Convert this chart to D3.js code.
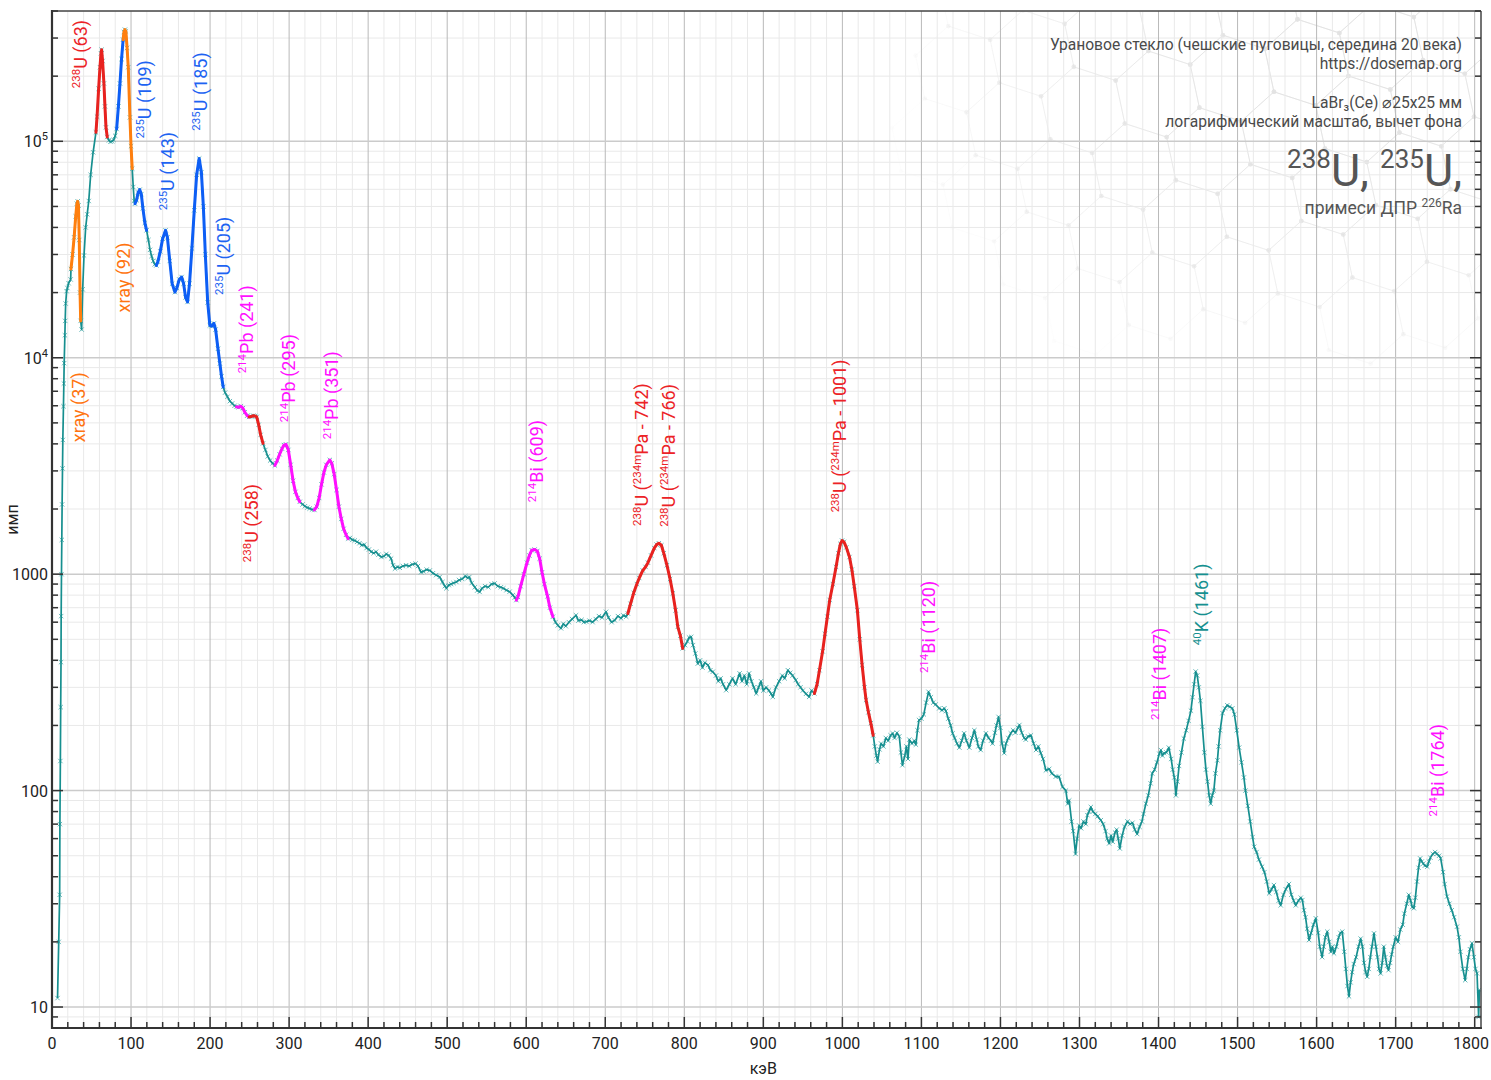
<!DOCTYPE html>
<html><head><meta charset="utf-8">
<script src="https://cdn.jsdelivr.net/npm/d3@7"></script>
<style>body{margin:0;background:#fff} text{font-family:Roboto,"Noto Sans",sans-serif}</style>
</head><body><svg id="c" width="1491" height="1080"></svg>
<script>
// ---------------- DATA ----------------
const energyKeV = [7,8.5,9.7,10,10.6,11,11.4,11.6,12,12.4,12.8,13.3,13.7,14.5,15,15.4,16.3,16.7,17.3,18.5,19.5,21,23.6,
24,26,28,30,31.5,32.5,33.5,34.5,35.5,36.3,
37.5,38.8,40.5,42.6,44.5,46.5,48.9,52,55.6,
57,59,60.7,62,62.8,64,65.7,67,68.3,69.9,
72,74,76,78,80,
81.8,84,86,88,90,
91,92.3,93.5,95,96.5,98.6,100,101.5,
102.8,104,105,
107,109,111,113,115,117.5,119.7,
122,124,126,128,130,132,
134,137,140,143.7,146,149,152,155.5,158,161,164,166.5,169,171.5,174,177,180,183,186.2,189,191.5,194,197,199.7,202,204.8,207,210,212.4,214.5,216.6,
219,222,225,228,231,233.5,
236,239,241.5,244,247,249.5,
252,254.6,257,259,261.5,264,267,
270,273,276,279,282,
285,288,291,293.5,296,299,302,305,308,311,313.5,
317,320,323,326,329,332,
335,338,341,344,347,351.5,354,357,360,363,366,369,372,374.6,
377,380,383,386,389,392,395,398,401,404,407,410,413,416.8,420,423,426,429,431.5,434,437,440,444,448,452,456,460,463,467,470,474,478,482,486,490.5,494,497,499,502,505,508,511.6,515,519,523,526,528,531,535,538,541,544,548,552,556,560,564,568,571,575,579,583,585.5,587.5,
589.5,593,597,601,604,607,610.6,614,617,620,623,627,630,633.8,
637,640,644,647,650,654,658,663,666,670,673,676,680,684,688,692,696,701,704,708,712,716,720,723,726.5,728.6,
732,736,740,743,747.5,751,754,758,762,765,767.8,771,774,778,782,785.5,789,791.8,795,798,
801,804,806,808.7,811,814,817,820,823,826,830,833,836,840,843,846,849,853,857,861,865,870,873,876,879,882,885,888,891,894,897,900,903.5,907,910,912,916,920,924,927,931,934,937,941,944,947,950,954,958,961,964.6,
968,971,975,978,981,984,988,992,995,997.5,999.6,1002,1005,1009,1012,1015,1019,1022,1025,1028,1030,1033,1036,1039,
1041,1043,1044.6,1047,1049,1052,1055,1058,1061,1063.6,1066,1069,1072,1074,1076,1079,1081,1083,1084.7,1088,1091,1093,1095,1097,1100,1103,1106,1109,1112,1115,1118,1122.6,1126,1129,1131,1134,1137,1139.5,1142,1145,1148,1151,1154,1157,1160.6,1164,1167,1170,1172,1175,1178,1181.6,1185,1188,1190,1193,1195,1197.6,1200,1202,1204.8,1207,1210,1213,1216,1219,1222,1224,1227,1230,1232,1235,1238.5,1242,1245,1248,1251,1254,1257.5,1261.7,1265,1270,1274,1278.5,1282.8,1285,1287,1290,1292,1295,1297,1299.6,1302,1305,1308,1310,1312,1314.4,1317,1320,1323,1327,1330,1333,1335,1337.5,1340,1342,1345,1347,1349,1351,1354,1357,1360.7,1364,1367,1370,1373,1376,1379,1381,1384,1387,1390,1392,1395,1398,1401,1403,1405,1407,1410,1413,1416,1418,1420,1422,1424,1426,1429,1432,1435,1438,1441,1443,1445,1447,1449,1451,1453,1455.5,1458,1460,1462,1464,1466,1468,1470,1472,1474.5,1476,1478,1481,1484,1487,1490,1493.4,1496,1499,1502,1505,1508,1510,1513,1516,1519,1521,1524,1527,1531,1534,1537,1540,1543,1546,1549,1552,1554.6,1558,1561,1565,1568,1571,1573.6,1577,1580,1582,1584,1586,1588,1590.5,1593,1596,1599,1602,1604,1607,1609,1611,1613.5,1616,1618,1620,1622,1625,1628,1630,1632.5,1635,1637,1639,1641,1643,1645,1647,1650,1653,1655.7,1658,1660,1662,1664,1666,1668,1670,1672.6,1675,1677,1679,1681,1683,1685,1687,1689,1691,1693,1695,1697,1700,1703,1706,1709,1711,1714,1716.6,1719,1721,1723,1725,1727,1729,1731,1733,1735,1737,1740,1742,1744,1747,1750,1752,1755,1757,1760,1762,1765,1768,1771,1774,1777.6,1780,1782,1785,1788,1790,1792,1794,1796.6,1799,1801,1803,1805,1806];
const counts = [11,20,33,70,137,243,392,640,1000,1440,2100,3080,4170,5970,7600,9440,12700,14800,17800,20300,21000,22100,23000,
25700,30000,36000,45000,51500,52800,50500,35000,20000,14800,
13500,20700,29700,40000,46000,53000,70000,89000,110000,
130000,175000,220000,255000,265000,235000,185000,145000,116000,104700,
101000,99500,100000,101500,106000,
114000,145000,185000,240000,295000,
320000,328000,322000,270000,220000,129000,95000,74800,
61500,53000,51500,
53500,58000,59800,57000,49000,42000,38800,
35000,31500,29500,28000,27000,26700,
27800,31000,35500,38800,36000,28000,22000,20100,21000,23000,23600,22000,19000,18100,22000,32000,48000,70000,83200,72000,50000,30000,18000,14100,14000,14400,13500,11000,9400,8200,7330,
6900,6600,6300,6150,6000,5930,
5900,5970,5850,5600,5400,5330,
5350,5400,5380,5330,4900,4400,4020,
3750,3500,3350,3250,3180,
3350,3580,3800,3950,3980,3750,3200,2700,2400,2250,2160,
2100,2060,2030,2010,1990,1980,
2050,2250,2600,2950,3200,3370,3250,2900,2450,2050,1800,1620,1520,1460,
1470,1440,1430,1410,1390,1360,1370,1320,1300,1270,1250,1270,1230,1200,1210,1240,1220,1180,1100,1060,1080,1070,1090,1100,1090,1110,1120,1090,1020,1030,1050,1040,1010,990,970,920,880,860,890,900,910,920,940,950,980,960,970,910,870,840,828,860,880,870,900,906,880,870,860,843,830,800,780,759,
785,880,1000,1130,1220,1290,1300,1280,1180,1020,900,790,700,636,
600,580,562,590,575,600,620,646,610,615,600,603,610,600,620,640,630,670,630,600,612,640,625,645,636,658,
730,820,900,960,1040,1080,1130,1220,1320,1370,1390,1360,1250,1100,950,815,680,571,520,454,
470,490,510,513,470,430,386,400,370,390,380,360,354,340,320,330,310,291,310,330,310,348,320,340,310,348,320,300,281,300,320,290,300,290,280,271,300,320,340,330,360,350,340,324,310,300,290,280,271,290,281,
310,360,440,530,636,760,900,1080,1250,1380,1430,1410,1330,1200,1050,880,681,500,380,300,262,230,205,180,
160,145,136,155,165,160,175,170,180,184,175,185,178,150,131,145,160,140,172,165,170,163,190,212,215,225,255,286,270,255,250,240,235,240,233,215,200,184,175,165,158,170,184,170,158,175,190,172,160,154,170,184,175,170,165,185,200,219,195,165,149,165,175,184,190,185,195,201,185,175,172,178,180,165,154,160,149,140,124,126,120,116,116,104,100,87,90,72,65,51,60,69,67,72,70,77,80,84,80,78,76,73,70,65,60,57,62,58,64,66,60,54,62,68,72,70,71,66,63,68,72,78,87,95,108,120,125,135,148,154,145,149,150,158,140,125,115,95,110,130,150,174,190,210,234,270,310,355,340,300,260,197,150,125,110,95,87,95,100,120,138,160,190,228,240,248,244,240,225,190,158,135,115,100,85,72,61,55,52,48,44.5,42,38,33.5,35,36.6,34,31,29.5,33,35,37,33,31,29.5,31,32,31.2,28,26,23,20.4,22,24,25.7,22,19,17,19,21,22.3,20,18,19,17.7,19,21,22,22.3,18,15,12.5,11.2,13,14.5,15.8,17,19,20.7,19,16,14.5,13.8,15,17,19,21.9,19,17,15,14.3,16,19,17,15.5,14.8,16,17.5,19,21,20,22.8,24,27,30,33,31,29,28.6,32,38,44,48.6,47,46,45,44.5,47,49,51,52,51,50,48.6,42,37,32.4,30,28,26,23.5,21,18,15,13.3,15,17,18.5,19.7,17,15,14.3,9,12];

// highlighted peak regions (keV from, keV to, colour)
const segStart = [24, 55.6, 81.8, 90, 105, 132, 233.5, 249.5, 282, 332, 587.5, 728.6, 964.6];
const segEnd   = [36.3, 69.9, 90, 101.5, 119.7, 216.6, 249.5, 267, 313.5, 374.6, 633.8, 798, 1039];
const segColor = ["#ff7f0e","#e8221f","#0d5ef5","#ff7f0e","#0d5ef5","#0d5ef5","#ff10ff","#e8221f","#ff10ff","#ff10ff","#ff10ff","#e8221f","#e8221f"];

// peak labels: text (^...^ = superscript), anchor energy, anchor count, colour
const labelText  = ["xray (37)","^238^U (63)","^235^U (109)","^235^U (143)","^235^U (185)","xray (92)","^235^U (205)","^214^Pb (241)","^214^Pb (295)","^214^Pb (351)","^238^U (258)","^214^Bi (609)","^238^U (^234m^Pa - 742)","^238^U (^234m^Pa - 766)","^238^U (^234m^Pa - 1001)","^214^Bi (1120)","^214^Bi (1407)","^40^K (1461)","^214^Bi (1764)"];
const labelKeV   = [41.7,44.9,125.8,154.9,196.6,99.2,225.7,254.7,307.8,362.2,261,621.4,754.1,788.5,1004.4,1117,1409,1462,1761.7];
const labelCount = [4070,176000,103000,48000,112000,16200,19500,8470,5040,4200,1135,2150,1670,1655,1930,349,212,470,76];
const labelColor = ["#ff7410","#ec2226","#1d63f2","#1d63f2","#1d63f2","#ff7410","#1d63f2","#ff10ff","#ff10ff","#ff10ff","#ec2226","#ff10ff","#ec2226","#ec2226","#ec2226","#ff10ff","#ff10ff","#169090","#ff10ff"];

const xMajorTicks = [0,100,200,300,400,500,600,700,800,900,1000,1100,1200,1300,1400,1500,1600,1700,1800];
const yMajorTicks = [10,100,1000,1e4,1e5];
const yTickLabels = ["10","100","1000","10^4^","10^5^"];
const infoLines = ["Урановое стекло (чешские пуговицы, середина 20 века)","https://dosemap.org","LaBr₃(Ce) ⌀25x25 мм","логарифмический масштаб, вычет фона"];
const bigTitle = "^238^U, ^235^U,";
const subTitle = "примеси ДПР ^226^Ra";

// ---------------- CHART ----------------
const m = {l:52, r:1481, t:11, b:1028};
const svg = d3.select("#c");
const x = d3.scaleLinear().domain([0,1808]).range([m.l, m.r]);
const y = d3.scaleLog().domain([8,4e5]).range([m.b, m.t]);

const xMinor = d3.range(0,1809,20).filter(v => v%100 !== 0);
const yMinor = [];
[1,10,100,1000,1e4,1e5].forEach(p => { for (let k=2;k<=9;k++){ const v=k*p; if (v>=8 && v<=4e5) yMinor.push(v);} });

svg.append("defs").append("clipPath").attr("id","clip").append("rect")
  .attr("x",m.l).attr("y",m.t).attr("width",m.r-m.l).attr("height",m.b-m.t);

const plot = svg.append("g").attr("clip-path","url(#clip)");

// watermark hexagons (decoration)
(function(){
  const g = plot.append("g");
  const r = 44, ang = 18*Math.PI/180, ox = 930, oy = -60;
  const rot = (px,py) => [ox + px*Math.cos(ang) - py*Math.sin(ang), oy + px*Math.sin(ang) + py*Math.cos(ang)];
  for (let i=-2;i<10;i++) for (let j=-3;j<8;j++){
    const cx = i*1.5*r, cy = j*Math.sqrt(3)*r + (Math.abs(i)%2)*Math.sqrt(3)/2*r;
    const c = rot(cx,cy);
    if (c[0]<900 || c[0]>1520 || c[1]<-40 || c[1]>330) continue;
    const dist = Math.hypot(c[0]-1330, (c[1]-60)*1.3);
    const op = Math.max(0, 0.8 - dist/560);
    if (op<=0.05) continue;
    const pts = d3.range(6).map(k => { const a=k*Math.PI/3; return rot(cx + r*Math.cos(a), cy + r*Math.sin(a)); });
    g.append("polygon").attr("points", pts.map(p=>p.join(",")).join(" "))
      .attr("fill","none").attr("stroke","#e0e0e0").attr("stroke-width",1).attr("opacity",op);
    pts.forEach(p => g.append("circle").attr("cx",p[0]).attr("cy",p[1]).attr("r",2.3).attr("fill","#e3e3e3").attr("opacity",op));
  }
})();

// grid
plot.append("g").selectAll("line").data(xMinor).join("line")
  .attr("x1",d=>x(d)).attr("x2",d=>x(d)).attr("y1",m.t).attr("y2",m.b).attr("stroke","#e9e9e9").attr("stroke-width",1);
plot.append("g").selectAll("line").data(yMinor).join("line")
  .attr("y1",d=>y(d)).attr("y2",d=>y(d)).attr("x1",m.l).attr("x2",m.r).attr("stroke","#e9e9e9").attr("stroke-width",1);
plot.append("g").selectAll("line").data(xMajorTicks).join("line")
  .attr("x1",d=>x(d)).attr("x2",d=>x(d)).attr("y1",m.t).attr("y2",m.b).attr("stroke","#b9b9b9").attr("stroke-width",1);
plot.append("g").selectAll("line").data(yMajorTicks).join("line")
  .attr("y1",d=>y(d)).attr("y2",d=>y(d)).attr("x1",m.l).attr("x2",m.r).attr("stroke","#cbcbcb").attr("stroke-width",1.5);

// data
const data = energyKeV.map((e,i)=>({e, c:counts[i]}));
const line = d3.line().x(d=>x(d.e)).y(d=>y(d.c));
const teal = "#168f8f";
plot.append("g").selectAll("path").data(data).join("path")
  .attr("transform",d=>`translate(${x(d.e)},${y(d.c)})`)
  .attr("d","M-2.2,-2.2L2.2,2.2M-2.2,2.2L2.2,-2.2").attr("stroke","#57b3b3").attr("stroke-width",0.9).attr("fill","none");
plot.append("path").datum(data).attr("d",line).attr("fill","none").attr("stroke",teal).attr("stroke-width",1.7).attr("stroke-linejoin","round");

segStart.forEach((s,i)=>{
  const sub = data.filter(d => d.e >= s && d.e <= segEnd[i]);
  if (sub.length < 2) return;
  plot.append("path").datum(sub).attr("d",line).attr("fill","none")
    .attr("stroke",segColor[i]).attr("stroke-width",3).attr("stroke-linejoin","round").attr("stroke-linecap","round");
});

// rich text helper
function rich(sel, str, size, supSize, rise){
  const parts = str.split("^");
  let raised = false;
  parts.forEach((p,i)=>{
    if (p === "") { return; }
    const sup = i%2===1;
    const t = sel.append("tspan").text(p).attr("font-size", sup?supSize:size);
    if (sup && !raised){ t.attr("dy",-rise); raised = true; }
    else if (!sup && raised){ t.attr("dy",rise); raised = false; }
  });
}

// peak labels
labelText.forEach((s,i)=>{
  const t = svg.append("text")
    .attr("transform",`translate(${x(labelKeV[i])},${y(labelCount[i])}) rotate(-90)`)
    .attr("fill",labelColor[i]).attr("text-anchor","start");
  rich(t, s, 18, 11.5, 7);
});

// frame
svg.append("line").attr("x1",m.l).attr("x2",m.l).attr("y1",m.t-1).attr("y2",m.b+1).attr("stroke","#333").attr("stroke-width",2.2);
svg.append("line").attr("x1",m.l-1).attr("x2",m.r+1).attr("y1",m.b).attr("y2",m.b).attr("stroke","#333").attr("stroke-width",2.2);
svg.append("line").attr("x1",m.l).attr("x2",m.r).attr("y1",m.t).attr("y2",m.t).attr("stroke","#444").attr("stroke-width",1.5);
svg.append("line").attr("x1",m.r).attr("x2",m.r).attr("y1",m.t).attr("y2",m.b).attr("stroke","#444").attr("stroke-width",1.5);

// ticks (inward)
const tk = svg.append("g").attr("stroke","#333").attr("stroke-width",1.5);
xMajorTicks.forEach(v=>tk.append("line").attr("x1",x(v)).attr("x2",x(v)).attr("y1",m.b).attr("y2",m.b-11));
xMinor.forEach(v=>tk.append("line").attr("x1",x(v)).attr("x2",x(v)).attr("y1",m.b).attr("y2",m.b-6));
yMajorTicks.forEach(v=>{
  tk.append("line").attr("y1",y(v)).attr("y2",y(v)).attr("x1",m.l).attr("x2",m.l+11);
  tk.append("line").attr("y1",y(v)).attr("y2",y(v)).attr("x1",m.r).attr("x2",m.r-11);
});
yMinor.forEach(v=>{
  tk.append("line").attr("y1",y(v)).attr("y2",y(v)).attr("x1",m.l).attr("x2",m.l+6);
  tk.append("line").attr("y1",y(v)).attr("y2",y(v)).attr("x1",m.r).attr("x2",m.r-6);
});

// tick labels
svg.append("g").selectAll("text").data(xMajorTicks).join("text")
  .attr("x",(d,i)=> i===xMajorTicks.length-1 ? 1489 : x(d))
  .attr("y",1049).attr("text-anchor",(d,i)=> i===xMajorTicks.length-1 ? "end" : "middle")
  .attr("font-size",16).attr("fill","#222").text(d=>d);
yMajorTicks.forEach((v,i)=>{
  const t = svg.append("text").attr("x",48).attr("y",y(v)+6).attr("text-anchor","end").attr("font-size",16).attr("fill","#222");
  rich(t, yTickLabels[i], 16, 11, 7);
});

// axis titles
svg.append("text").attr("x",x(900)).attr("y",1074).attr("text-anchor","middle").attr("font-size",16).attr("fill","#222").text("кэВ");
svg.append("text").attr("transform",`translate(18,${(m.t+m.b)/2}) rotate(-90)`).attr("text-anchor","middle").attr("font-size",16).attr("fill","#222").text("имп");

// info block
const infoY = [50,69,108,127];
infoLines.forEach((s,i)=>{
  svg.append("text").attr("x",1462).attr("y",infoY[i]).attr("text-anchor","end").attr("font-size",15.6).attr("fill","#4a4a4a").text(s);
});
const bt = svg.append("text").attr("x",1462).attr("y",186).attr("text-anchor","end").attr("font-size",45).attr("fill","#555");
rich(bt, bigTitle, 45, 26, 18);
const st = svg.append("text").attr("x",1462).attr("y",214).attr("text-anchor","end").attr("font-size",17.5).attr("fill","#555");
rich(st, subTitle, 17.5, 12, 7);
</script></body></html>
